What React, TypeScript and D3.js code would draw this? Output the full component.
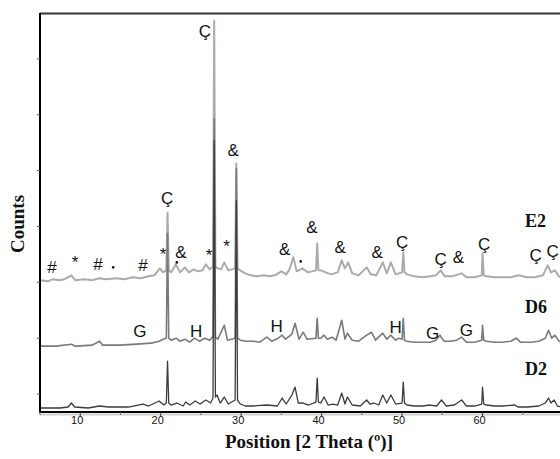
import React from 'react';
import * as d3 from 'd3';

// XRD patterns, [2 theta, counts], each trace above its own offset
const D2 = [
  [5.0, 4], [7.5, 4], [8.5, 5], [8.9, 9], [9.3, 5], [11, 4], [12.4, 6], [13.5, 5], [16, 5],
  [17.8, 8], [18.5, 6], [19.8, 11], [20.4, 7], [20.7, 9], [20.85, 51], [21.0, 9], [21.3, 7],
  [22.0, 9], [22.8, 6], [23.1, 10], [23.6, 7], [24.3, 11], [24.9, 8], [25.6, 12], [26.2, 9],
  [26.5, 14], [26.65, 272], [26.8, 15], [27.0, 17], [27.4, 9], [27.9, 15], [28.4, 8],
  [29.25, 12], [29.4, 212], [29.55, 12], [29.9, 8], [30.5, 6], [31.5, 6], [33.2, 7], [34.5, 6],
  [35.1, 14], [35.6, 8], [36.3, 17], [36.7, 25], [37.1, 9], [37.7, 9], [38.4, 7], [39.3, 10],
  [39.45, 34], [39.6, 10], [39.9, 9], [40.3, 15], [40.8, 7], [41.4, 8], [42.0, 7], [42.5, 19],
  [42.9, 8], [43.2, 15], [43.8, 7], [44.8, 6], [45.6, 12], [46.0, 8], [46.5, 9], [47.1, 7],
  [47.6, 17], [48.1, 9], [48.6, 17], [49.2, 8], [50.0, 9], [50.15, 30], [50.3, 9], [50.6, 7],
  [51.5, 6], [52.5, 6], [53.5, 7], [54.3, 6], [54.9, 12], [55.5, 6], [56.5, 7], [57.4, 12],
  [58.0, 6], [59.0, 6], [59.9, 8], [60.0, 25], [60.15, 8], [60.5, 7], [61.5, 6], [62.5, 6],
  [64.0, 7], [64.4, 5], [65.6, 5], [67.0, 6], [67.8, 9], [68.2, 14], [68.5, 9], [68.9, 12],
  [69.3, 6], [70, 5],
];

const D6 = [
  [5.0, 4], [7.0, 4], [8.9, 6], [9.4, 4], [11.5, 5], [12.4, 9], [12.8, 5], [15, 5], [17, 6],
  [18.8, 7], [19.8, 9], [20.3, 11], [20.7, 12], [20.85, 117], [21.0, 12], [21.3, 10], [21.9, 12],
  [22.4, 9], [23.0, 11], [23.6, 8], [24.2, 12], [24.8, 9], [25.5, 12], [26.1, 10], [26.5, 14],
  [26.65, 232], [26.8, 13], [27.1, 11], [27.9, 25], [28.3, 10], [29.25, 12], [29.4, 182],
  [29.55, 12], [29.9, 10], [30.7, 9], [31.5, 9], [32.3, 8], [33.2, 13], [33.8, 9], [34.6, 12],
  [35.1, 15], [35.5, 11], [36.0, 14], [36.3, 16], [36.7, 27], [37.2, 11], [37.7, 18], [38.2, 11],
  [39.3, 12], [39.45, 32], [39.6, 12], [39.9, 12], [40.3, 15], [40.7, 11], [41.3, 13], [41.8, 10],
  [42.5, 30], [42.9, 11], [43.2, 17], [43.8, 10], [44.6, 9], [45.6, 15], [46.2, 18], [46.7, 10],
  [47.6, 17], [48.1, 11], [48.6, 15], [49.2, 10], [49.6, 12], [50.0, 11], [50.15, 32], [50.3, 10],
  [50.6, 9], [51.5, 8], [52.5, 8], [53.5, 8], [54.2, 10], [54.7, 15], [55.2, 9], [56.0, 9],
  [56.8, 10], [57.4, 13], [58.0, 8], [59.0, 8], [59.9, 10], [60.0, 25], [60.15, 10], [60.5, 9],
  [61.5, 8], [62.5, 8], [63.5, 9], [64.2, 12], [64.7, 8], [66.0, 8], [67.0, 9], [67.8, 12],
  [68.2, 20], [68.6, 12], [69.0, 15], [69.5, 9], [70, 8],
];

const E2 = [
  [5.0, 4], [6, 3], [6.5, 5], [7.5, 4], [8.0, 5], [8.9, 9], [9.4, 4], [10.5, 5], [11.5, 4],
  [12.4, 6], [13.2, 5], [14.5, 6], [15.5, 5], [16.5, 7], [17.5, 6], [18.5, 8], [19.2, 9],
  [19.9, 16], [20.3, 12], [20.7, 14], [20.85, 72], [21.0, 14], [21.3, 12], [21.9, 20], [22.4, 12],
  [23.0, 17], [23.5, 12], [24.1, 15], [24.6, 13], [25.2, 14], [25.6, 20], [26.1, 15], [26.5, 18],
  [26.65, 264], [26.8, 18], [27.1, 16], [27.5, 15], [27.9, 22], [28.4, 14], [29.25, 16],
  [29.4, 121], [29.55, 16], [29.9, 14], [30.5, 11], [31.2, 9], [32.0, 8], [32.8, 9], [33.5, 8],
  [34.2, 9], [35.0, 13], [35.6, 10], [36.0, 15], [36.5, 27], [36.9, 13], [37.6, 16], [38.3, 12],
  [39.3, 14], [39.45, 41], [39.6, 14], [39.9, 14], [40.5, 12], [41.2, 10], [42.0, 12], [42.5, 24],
  [42.9, 16], [43.3, 22], [43.8, 11], [44.6, 9], [45.6, 17], [46.1, 10], [46.8, 9], [47.6, 22],
  [48.1, 11], [48.6, 22], [49.2, 10], [50.0, 12], [50.15, 32], [50.3, 12], [50.6, 10], [51.5, 8],
  [52.5, 7], [53.5, 8], [54.2, 9], [54.8, 14], [55.3, 8], [56.2, 8], [57.4, 11], [58.0, 7],
  [59.0, 7], [59.9, 9], [60.0, 31], [60.15, 9], [60.5, 8], [61.5, 7], [62.5, 7], [63.5, 7],
  [64.5, 9], [65.5, 7], [66.5, 7], [67.5, 9], [68.1, 19], [68.5, 12], [69.0, 14], [69.5, 8],
  [70, 6],
];

const seriesNames = ['E2', 'D6', 'D2'];
const seriesData = [E2, D6, D2];
const seriesOffsets = [128, 62, 0];
const seriesColors = ['#ababab', '#7a7a7a', '#3c3c3c'];
const seriesWidths = [2, 1.6, 1.3];
const seriesLabelCounts = [185, 99, 37];

// phase markers: [symbol, 2 theta, counts]
const phaseMarks = [
  ['Ç', 25.5, 376], ['&', 29.0, 257], ['Ç', 20.8, 209], ['#', 6.5, 139], ['*', 9.35, 144],
  ['#', 12.2, 142], ['#', 17.8, 141], ['*', 20.3, 152], ['&', 22.5, 154], ['*', 26.0, 151],
  ['*', 28.2, 160], ['&', 35.4, 157], ['&', 38.8, 179], ['&', 42.3, 159], ['&', 46.9, 154],
  ['Ç', 50.0, 164], ['Ç', 54.8, 147], ['&', 57.0, 149], ['Ç', 60.2, 162], ['Ç', 66.6, 151],
  ['Ç', 68.7, 155],
  ['G', 17.4, 75], ['H', 24.4, 75], ['H', 34.4, 80], ['H', 49.2, 79], ['G', 53.8, 73],
  ['G', 58.0, 76],
];
const dotMarks = [[14.1, 145], [22.0, 150], [37.4, 151]];

const xTicks = [10, 20, 30, 40, 50, 60];
const xMinorTicks = [5, 15, 25, 35, 45, 55, 65];
const yTicks = [18, 74, 130, 186, 242, 298, 354];

export default function App() {
  const width = 560;
  const height = 459;
  const left = 40;
  const top = 13;
  const bottom = 412;

  const x = d3.scaleLinear().domain([5, 70]).range([left, 563]);
  const y = d3.scaleLinear().domain([0, 400]).range([bottom, top]);

  const line = (off: number) =>
    d3
      .line<number[]>()
      .x(d => x(d[0]))
      .y(d => y(d[1] + off));

  return (
    <svg
      width={width}
      height={height}
      style={{ position: 'absolute', left: 0, top: 0, background: '#fff' }}
    >
      <defs>
        <clipPath id="plot">
          <rect x={left} y={top} width={width - left} height={bottom - top} />
        </clipPath>
      </defs>

      <g clipPath="url(#plot)">
        {seriesData.map((data, i) => (
          <path
            key={seriesNames[i]}
            d={line(seriesOffsets[i])(data) || ''}
            fill="none"
            stroke={seriesColors[i]}
            strokeWidth={seriesWidths[i]}
            strokeLinejoin="round"
          />
        ))}
      </g>

      {/* frame */}
      <line x1={left} x2={width} y1={top + 0.5} y2={top + 0.5} stroke="#333" strokeWidth={2} />
      <line x1={left} x2={left} y1={top} y2={bottom + 1} stroke="#000" strokeWidth={2} />
      <line x1={left} x2={width} y1={bottom} y2={bottom} stroke="#000" strokeWidth={2} />
      <line x1={left} x2={width} y1={bottom + 2.5} y2={bottom + 2.5} stroke="#d0d0d0" strokeWidth={2} />

      {yTicks.map(t => (
        <line key={t} x1={left - 3} x2={left} y1={y(t)} y2={y(t)} stroke="#555" strokeWidth={1} />
      ))}
      {xMinorTicks.map(t => (
        <line key={t} x1={x(t)} x2={x(t)} y1={bottom} y2={bottom + 3} stroke="#666" strokeWidth={1} />
      ))}
      {xTicks.map(t => (
        <g key={t}>
          <line x1={x(t)} x2={x(t)} y1={bottom} y2={bottom + 5} stroke="#333" strokeWidth={1} />
          <text
            x={x(t) - 3}
            y={424}
            textAnchor="middle"
            fontFamily="Liberation Sans, Arial, sans-serif"
            fontSize={11}
            fill="#111"
          >
            {t}
          </text>
        </g>
      ))}

      {/* phase labels */}
      {phaseMarks.map((m, i) => (
        <text
          key={i}
          x={x(m[1] as number)}
          y={y(m[2] as number)}
          textAnchor="middle"
          fontFamily="Liberation Sans, Arial, sans-serif"
          fontSize={17}
          fill="#111"
        >
          {m[0]}
        </text>
      ))}
      {dotMarks.map((d, i) => (
        <circle key={i} cx={x(d[0])} cy={y(d[1])} r={1.3} fill="#111" />
      ))}

      {seriesNames.map((n, i) => (
        <text
          key={n}
          x={525}
          y={y(seriesLabelCounts[i])}
          fontFamily="Liberation Serif, Times New Roman, serif"
          fontWeight="bold"
          fontSize={18}
          fill="#111"
        >
          {n}
        </text>
      ))}

      <text
        x={309}
        y={448}
        textAnchor="middle"
        fontFamily="Liberation Serif, Times New Roman, serif"
        fontWeight="bold"
        fontSize={19}
        fill="#111"
      >
        Position [2 Theta (º)]
      </text>
      <text
        transform="translate(24,224) rotate(-90)"
        textAnchor="middle"
        fontFamily="Liberation Serif, Times New Roman, serif"
        fontWeight="bold"
        fontSize={19}
        fill="#111"
      >
        Counts
      </text>
    </svg>
  );
}
